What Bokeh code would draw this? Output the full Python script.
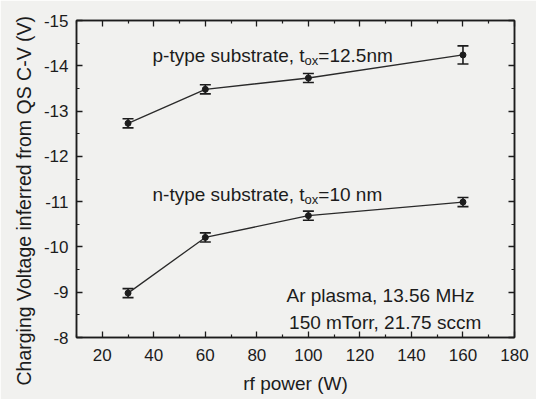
import math
from bokeh.plotting import figure
from bokeh.models import (Range1d, FixedTicker, LinearAxis, Whisker, TeeHead,
                          ColumnDataSource, Label, Title)
from bokeh.embed import file_html
from bokeh.resources import INLINE

# ---- data ----
rf_power = [30, 60, 100, 160]
p_type_v = [-12.73, -13.48, -13.73, -14.24]
p_type_err = [0.1, 0.1, 0.1, 0.2]
n_type_v = [-8.98, -10.21, -10.69, -10.99]
n_type_err = [0.1, 0.1, 0.1, 0.1]

x_ticks = [20, 40, 60, 80, 100, 120, 140, 160, 180]
y_ticks = [-15, -14, -13, -12, -11, -10, -9, -8]
y_tick_labels = ["-15", "-14", "-13", "-12", "-11", "-10", "-9", "-8"]

x_label = "rf power (W)"
y_label = "Charging Voltage inferred from QS C-V (V)"

FONT = "Liberation Sans"
INK = "#1c1c1c"
BG = "#f1f1ef"

p = figure(width=536, height=399, output_backend="svg", toolbar_location=None,
           x_range=Range1d(10, 180), y_range=Range1d(-8, -15),
           min_border_left=76, min_border_right=22, min_border_top=20,
           min_border_bottom=62)
p.background_fill_color = BG
p.border_fill_color = BG
p.outline_line_color = INK
p.outline_line_width = 1.5
p.grid.visible = False

xt = FixedTicker(ticks=x_ticks, minor_ticks=[v + 10 for v in [0] + x_ticks[:-1]])
yt = FixedTicker(ticks=y_ticks, minor_ticks=[v + 0.5 for v in y_ticks[:-1]])

def style(ax):
    ax.axis_line_color = INK
    ax.axis_line_width = 1.5
    ax.major_tick_in = 6
    ax.major_tick_out = 0
    ax.minor_tick_in = 3
    ax.minor_tick_out = 0
    ax.major_tick_line_color = INK
    ax.minor_tick_line_color = INK
    ax.major_tick_line_width = 1.3
    ax.minor_tick_line_width = 1.2
    ax.major_label_text_font = FONT
    ax.major_label_text_font_size = "17px"
    ax.major_label_text_color = INK

xa = p.xaxis[0]
xa.ticker = xt
style(xa)
xa.major_label_standoff = 11
xa.axis_label = x_label
xa.axis_label_text_font = FONT
xa.axis_label_text_font_size = "19px"
xa.axis_label_text_font_style = "normal"
xa.axis_label_text_color = INK
xa.axis_label_standoff = 9

ya = p.yaxis[0]
ya.ticker = yt
style(ya)
ya.major_label_standoff = 8
ya.major_label_overrides = {v: s for v, s in zip(y_ticks, y_tick_labels)}

top = LinearAxis(ticker=xt, major_label_overrides={v: "" for v in x_ticks}, major_label_standoff=0)
style(top)
p.add_layout(top, "above")
right = LinearAxis(ticker=yt, major_label_overrides={v: "" for v in y_ticks}, major_label_standoff=0)
style(right)
p.add_layout(right, "right")

# y-axis title (starts below the frame bottom, like the reference)
p.add_layout(Title(text=y_label, align="left", offset=-48,
                   text_font=FONT, text_font_size="19.5px", text_font_style="normal",
                   text_color=INK, standoff=12), "left")

# ---- series ----
for vals, errs in [(p_type_v, p_type_err), (n_type_v, n_type_err)]:
    src = ColumnDataSource(dict(x=rf_power, y=vals,
                                lo=[v - e for v, e in zip(vals, errs)],
                                hi=[v + e for v, e in zip(vals, errs)]))
    p.line("x", "y", source=src, line_color="#2a2a2a", line_width=1.3)
    w = Whisker(source=src, base="x", upper="hi", lower="lo",
                line_color=INK, line_width=1.6,
                upper_head=TeeHead(size=11, line_color=INK, line_width=1.6),
                lower_head=TeeHead(size=11, line_color=INK, line_width=1.6))
    p.add_layout(w)
    p.scatter("x", "y", source=src, marker="circle", size=6,
              fill_color=INK, line_color=INK)

# ---- annotations ----
def lbl(text, x, y, size="19px", xo=0, yo=0):
    p.add_layout(Label(x=x, y=y, text=text, x_offset=xo, y_offset=yo,
                       text_font=FONT, text_font_size=size, text_color=INK,
                       text_baseline="alphabetic", text_align="left"))

fs = 19
w1 = 8.004 * fs
wox = (0.556 + 0.5) * 13
lbl("p-type substrate, t", 39.5, -14.23)
lbl("ox", 39.5, -14.23, size="13px", xo=w1, yo=-5)
lbl("=12.5nm", 39.5, -14.23, xo=w1 + wox)

lbl("n-type substrate, t", 39.5, -11.15)
lbl("ox", 39.5, -11.15, size="13px", xo=w1, yo=-5)
lbl("=10 nm", 39.5, -11.15, xo=w1 + wox)

lbl("Ar plasma, 13.56 MHz", 91.5, -8.93)
lbl("150 mTorr, 21.75 sccm", 92.5, -8.33)

open("out.html", "w").write(file_html(p, INLINE))
